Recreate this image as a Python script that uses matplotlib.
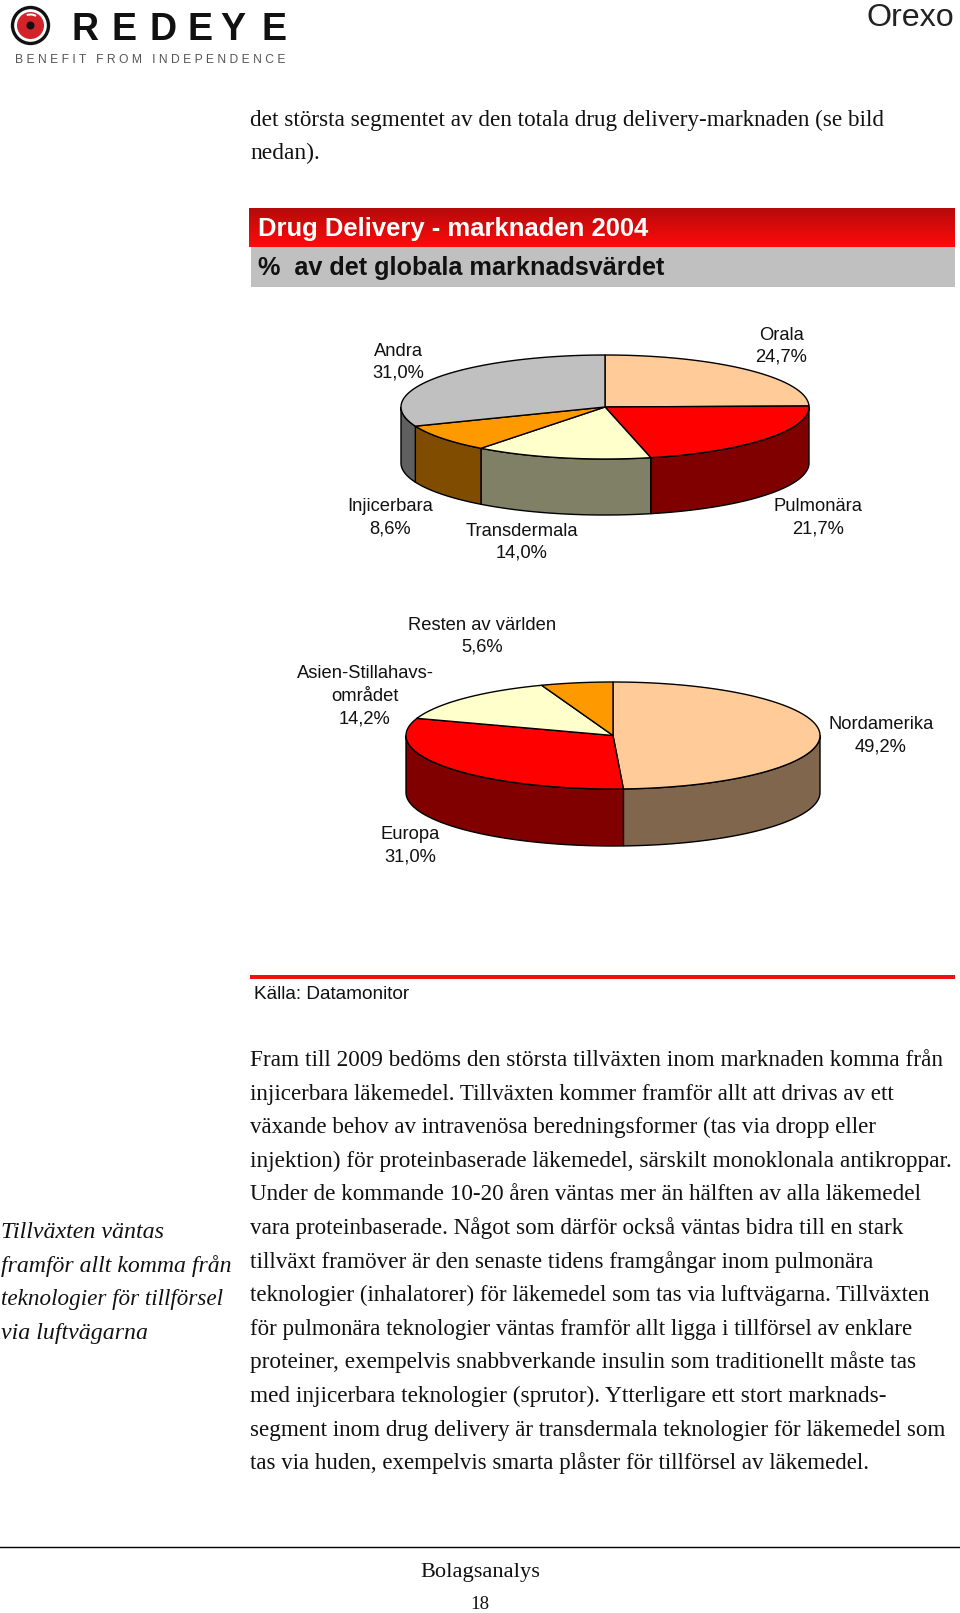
import matplotlib
matplotlib.use("Agg")
import matplotlib.pyplot as plt
import numpy as np
from matplotlib.patches import Circle, Wedge

# data
products = ['Orala', 'Pulmonära', 'Transdermala', 'Injicerbara', 'Andra']
product_share = [24.7, 21.7, 14.0, 8.6, 31.0]
product_colors = ['#ffcc99', '#ff0000', '#ffffcc', '#ff9900', '#c0c0c0']

regions = ['Nordamerika', 'Europa', 'Asien-Stillahavs-\nområdet', 'Resten av världen']
region_share = [49.2, 31.0, 14.2, 5.6]
region_colors = ['#ffcc99', '#ff0000', '#ffffcc', '#ff9900']

intro_lines = ['det största segmentet av den totala drug delivery-marknaden (se bild', 'nedan).']
body_lines = [
    'Fram till 2009 bedöms den största tillväxten inom marknaden komma från',
    'injicerbara läkemedel. Tillväxten kommer framför allt att drivas av ett',
    'växande behov av intravenösa beredningsformer (tas via dropp eller',
    'injektion) för proteinbaserade läkemedel, särskilt monoklonala antikroppar.',
    'Under de kommande 10-20 åren väntas mer än hälften av alla läkemedel',
    'vara proteinbaserade. Något som därför också väntas bidra till en stark',
    'tillväxt framöver är den senaste tidens framgångar inom pulmonära',
    'teknologier (inhalatorer) för läkemedel som tas via luftvägarna. Tillväxten',
    'för pulmonära teknologier väntas framför allt ligga i tillförsel av enklare',
    'proteiner, exempelvis snabbverkande insulin som traditionellt måste tas',
    'med injicerbara teknologier (sprutor). Ytterligare ett stort marknads-',
    'segment inom drug delivery är transdermala teknologier för läkemedel som',
    'tas via huden, exempelvis smarta plåster för tillförsel av läkemedel.',
]
body_right = [945, 895, 878, 955, 923, 905, 877, 931, 913, 918, 889, 947, 871]
side_lines = ['Tillväxten väntas', 'framför allt komma från', 'teknologier för tillförsel', 'via luftvägarna']
side_right = [164, 232, 224, 148]

product_label_xy = [(781, 362), (818, 533), (522, 558), (390, 533), (398, 378)]
region_label_xy = [(881, 751), (410, 861), (365, 723), (482, 652)]

SANS = 'Liberation Sans'
SERIF = 'Liberation Serif'

fig = plt.figure(figsize=(9.6, 16.13), dpi=100)
ax = fig.add_axes([0, 0, 1, 1])
ax.set_axis_off()
renderer = fig.canvas.get_renderer()


def fit_text(x, y, s, right, size, **kw):
    # scale the font so the line ends where it ends in the picture
    t = ax.text(x, y, s, fontsize=size, va='baseline', **kw)
    w = t.get_window_extent(renderer).width
    t.set_fontsize(size * (right - x) / w)
    return t


def pie3d(values, colors, cx, cy, rx, ry, depth):
    def edge(theta):
        return cx + rx * np.sin(theta), cy - ry * np.cos(theta)

    ends = np.cumsum(values) / np.sum(values) * 2 * np.pi
    starts = np.concatenate([[0], ends[:-1]])
    # side wall first, only the front half shows
    for a, b, c in zip(starts, ends, colors):
        lo, hi = max(a, np.pi / 2), min(b, 3 * np.pi / 2)
        if hi <= lo:
            continue
        xs, ys = edge(np.linspace(lo, hi, 80))
        rgb = np.array(matplotlib.colors.to_rgb(c)) * 0.5
        ax.fill(np.r_[xs, xs[::-1]], np.r_[ys, ys[::-1] + depth], facecolor=rgb,
                edgecolor='black', linewidth=1, zorder=2)
    for a, b, c in zip(starts, ends, colors):
        xs, ys = edge(np.linspace(a, b, 120))
        ax.fill(np.r_[cx, xs], np.r_[cy, ys], facecolor=c, edgecolor='black', linewidth=1, zorder=3)


def pie_labels(names, values, xy):
    for name, v, (x, y) in zip(names, values, xy):
        ax.text(x, y, name + '\n' + f'{v:.1f}'.replace('.', ',') + '%', fontsize=13.2, family=SANS,
                ha='center', va='baseline', linespacing=1.42, color='#111111', multialignment='center')


# letterhead
ax.add_patch(Circle((30.5, 25.5), 18, facecolor='white', edgecolor='#111111', linewidth=2.4))
ax.add_patch(Circle((30.5, 25.5), 13.5, facecolor='#d2232a', edgecolor='none'))
ax.add_patch(Circle((30.5, 25.5), 4, facecolor='#111111', edgecolor='none'))
ax.add_patch(Wedge((30.5, 25.5), 12, 250, 300, width=2, facecolor='white', edgecolor='none'))
for x, ch in zip([72, 111, 150, 188, 220, 261], 'REDEYE'):
    ax.text(x, 40, ch, fontsize=27, family=SANS, weight='bold', color='#111111', va='baseline')
fit_text(15, 63, 'B E N E F I T   F R O M   I N D E P E N D E N C E', 285, 8, family=SANS, color='#555555')
fit_text(867, 26, 'Orexo', 955, 21, family=SANS, color='#222222')

for y, s, r in zip([126, 159], intro_lines, [886, 320]):
    fit_text(250, y, s, r, 14, family=SERIF, color='#111111')

# header bars
grad = np.linspace(0, 1, 40)[:, None, None] * np.array([[[0.29, 0.0, 0.0]]]) + np.array([[[0.71, 0.04, 0.04]]])
ax.imshow(grad, extent=(249, 955, 247, 208), aspect='auto', zorder=1)
ax.fill_between([251, 955], 247, 287, color='#c0c0c0', linewidth=0, zorder=1)
fit_text(258, 236, 'Drug Delivery - marknaden 2004', 650, 15, family=SANS, weight='bold', color='white', zorder=4)
fit_text(258, 275, '%  av det globala marknadsvärdet', 667, 15, family=SANS, weight='bold', color='#111111', zorder=4)

pie3d(product_share, product_colors, 605, 407, 204, 52, 56)
pie_labels(products, product_share, product_label_xy)
pie3d(region_share, region_colors, 613, 735.5, 207, 53.5, 57)
pie_labels(regions, region_share, region_label_xy)

ax.fill_between([250, 955], 974.5, 978.5, color='#ee1111', linewidth=0)
fit_text(254, 999, 'Källa: Datamonitor', 411, 12, family=SANS, color='#111111')

for i, (s, r) in enumerate(zip(body_lines, body_right)):
    fit_text(250, 1066 + i * 33.6, s, r, 14, family=SERIF, color='#111111')
for i, (s, r) in enumerate(zip(side_lines, side_right)):
    fit_text(1, 1238 + i * 33.6, s, r, 14, family=SERIF, style='italic', color='#111111')

# footer
ax.plot([0, 959], [1547, 1547], color='black', linewidth=1)
fit_text(420, 1577, 'Bolagsanalys', 540, 14, family=SERIF, color='#111111')
fit_text(470, 1609, '18', 489, 14, family=SERIF, color='#111111')

ax.set_xlim(0, 960)
ax.set_ylim(1613, 0)
fig.savefig('out.png', dpi=100)
